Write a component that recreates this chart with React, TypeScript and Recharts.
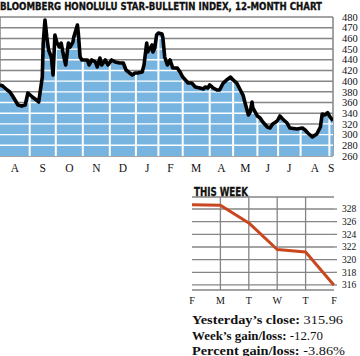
import {
  Area,
  CartesianGrid,
  ComposedChart,
  Line,
  ReferenceLine,
  XAxis,
  YAxis,
} from 'recharts';

// 12-month index, x = day since left edge of chart
const DAYS = [
  0, 3, 8, 11, 14, 18, 20, 24, 28, 31, 36, 39, 43, 47, 48, 50, 52, 54, 57, 59, 61, 63, 66, 68, 70,
  73, 76, 78, 81, 82, 86, 87, 89, 91, 97, 99, 102, 106, 108, 111, 113, 117, 120, 124, 128, 133, 137,
  140, 144, 147, 150, 153, 158, 160, 163, 164, 167, 169, 170, 172, 174, 176, 180, 181, 183, 186, 189,
  192, 197, 200, 203, 209, 213, 217, 222, 226, 228, 231, 233, 237, 241, 244, 248, 252, 256, 259, 263,
  267, 270, 272, 276, 278, 280, 281, 286, 289, 292, 297, 300, 303, 308, 311, 314, 319, 322, 330, 336,
  339, 342, 347, 352, 356, 358, 361, 364, 367, 370,
];
const CLOSE = [
  372.4, 370.8, 364.5, 361.3, 355.0, 345.5, 340.7, 339.1, 340.7, 359.7, 353.4, 350.2, 345.5, 385.0,
  438.8, 475.3, 448.3, 427.8, 416.7, 388.2, 451.5, 440.4, 432.5, 438.8, 423.0, 404.0, 438.8, 432.5,
  440.4, 448.3, 467.3, 454.7, 416.7, 412.0, 412.0, 404.0, 412.0, 408.8, 400.9, 415.1, 404.0, 412.0,
  404.0, 412.0, 408.8, 407.2, 407.2, 396.1, 391.4, 388.2, 391.4, 391.4, 393.0, 404.0, 438.8, 424.6,
  430.9, 435.7, 424.6, 430.9, 451.5, 454.7, 453.1, 446.8, 416.7, 404.0, 412.0, 399.3, 399.3, 393.0,
  385.0, 375.5, 375.5, 369.2, 367.6, 366.0, 369.2, 367.6, 372.4, 367.6, 364.5, 364.5, 375.5, 380.3,
  385.0, 380.3, 375.5, 364.5, 356.5, 345.5, 324.9, 329.6, 345.5, 336.0, 323.3, 320.1, 313.8, 305.9,
  304.3, 310.7, 315.4, 323.3, 318.6, 312.2, 304.3, 302.7, 304.3, 301.2, 296.4, 290.1, 294.8, 305.9,
  326.5, 324.9, 328.7, 321.2, 316.0,
];
const LAST_DAY = 370;
const MONTH_START_DAY = [33, 62, 92, 122, 151, 176, 203, 233, 259, 286, 309, 334, 366];
const MONTH_LABELS = ['A', 'S', 'O', 'N', 'D', 'J', 'F', 'M', 'A', 'M', 'J', 'J', 'A', 'S'];
const Y_MIN = 260;
const Y_MAX = 480;
const Y_LABELS = ['480', '470', '460', '450', '440', '420', '400', '380', '360', '340', '320', '300', '280', '260'];

// this week
const WEEK_DAYS = ['F', 'M', 'T', 'W', 'T', 'F'];
const WEEK_CLOSE = [328.66, 328.6, 325.8, 321.6, 321.2, 315.96];
const WEEK_TICKS = [316, 318, 320, 322, 324, 326, 328];

const BLUE = '#78b4e0';
const GRID = '#858585';
const SERIF = "'Liberation Serif', 'Times New Roman', serif";
const NARROW = "'Liberation Sans Narrow', 'DejaVu Sans Condensed', Arial, sans-serif";

const rows = DAYS.map((day, i) => ({ day, v: CLOSE[i] }));
const weekRows = WEEK_CLOSE.map((v, i) => ({ i, v }));

const yStep = (Y_MAX - Y_MIN) / (Y_LABELS.length - 1);
const yTicks = Y_LABELS.map((_, i) => Y_MAX - i * yStep);
const bounds = [0, ...MONTH_START_DAY, LAST_DAY];
const monthMid = MONTH_LABELS.map((_, i) => (bounds[i] + bounds[i + 1]) / 2);
const HALF = 1.1; // half thickness of the white lines inside the blue, in index units

function valueAt(day: number) {
  for (let i = 1; i < DAYS.length; i++) {
    if (DAYS[i] >= day) {
      const t = (day - DAYS[i - 1]) / (DAYS[i] - DAYS[i - 1]);
      return CLOSE[i - 1] + t * (CLOSE[i] - CLOSE[i - 1]);
    }
  }
  return CLOSE[CLOSE.length - 1];
}

function YearChart() {
  return (
    <ComposedChart width={360} height={180} data={rows} margin={{ top: 17, right: 0, left: 0, bottom: 4 }}>
      <CartesianGrid stroke={GRID} strokeWidth={1.5} />
      <XAxis
        type="number"
        dataKey="day"
        domain={[0, LAST_DAY]}
        allowDataOverflow
        ticks={MONTH_START_DAY}
        interval={0}
        tick={false}
        tickLine={false}
        axisLine={false}
        height={0}
      />
      <XAxis
        xAxisId="months"
        type="number"
        dataKey="day"
        domain={[0, LAST_DAY]}
        allowDataOverflow
        ticks={monthMid}
        interval={0}
        tickFormatter={(v) => MONTH_LABELS[monthMid.indexOf(v)]}
        tickLine={false}
        axisLine={false}
        tickSize={0}
        tickMargin={8}
        height={20}
        tick={{ fill: '#111', fontSize: 11.5, fontFamily: SERIF }}
      />
      <YAxis
        orientation="right"
        type="number"
        domain={[Y_MIN, Y_MAX]}
        allowDataOverflow
        ticks={yTicks}
        interval={0}
        width={27}
        tickLine={false}
        axisLine={false}
        tickSize={0}
        tickMargin={9}
        tickFormatter={(v) => Y_LABELS[Math.round((Y_MAX - v) / yStep)]}
        tick={{ fill: '#111', fontSize: 10.5, fontFamily: SERIF, textAnchor: 'start' }}
      />
      <Area
        type="linear"
        dataKey="v"
        baseValue={Y_MIN}
        fill={BLUE}
        fillOpacity={1}
        stroke="none"
        isAnimationActive={false}
      />
      {yTicks.slice(1, -1).map((level) => (
        <Area
          key={level}
          type="linear"
          dataKey={(r: { v: number }) => [level - HALF, Math.min(Math.max(r.v, level - HALF), level + HALF)]}
          fill="#fff"
          fillOpacity={1}
          stroke="none"
          isAnimationActive={false}
        />
      ))}
      {MONTH_START_DAY.map((d) => (
        <ReferenceLine
          key={d}
          ifOverflow="visible"
          segment={[
            { x: d, y: Y_MIN },
            { x: d, y: valueAt(d) - 1.5 },
          ]}
          stroke="#fff"
          strokeWidth={2}
        />
      ))}
      <Line
        type="linear"
        dataKey="v"
        stroke="#000"
        strokeWidth={3.6}
        strokeLinejoin="round"
        dot={false}
        activeDot={false}
        isAnimationActive={false}
      />
    </ComposedChart>
  );
}

function WeekChart() {
  return (
    <ComposedChart width={360} height={120} data={weekRows} margin={{ top: 7, right: 0, left: 192, bottom: 0 }}>
      <CartesianGrid vertical={false} stroke={GRID} strokeWidth={1.3} />
      <XAxis
        type="number"
        dataKey="i"
        domain={[0, WEEK_DAYS.length - 1]}
        ticks={WEEK_DAYS.map((_, i) => i)}
        interval={0}
        tickFormatter={(v) => WEEK_DAYS[v]}
        tickLine={false}
        axisLine={false}
        tickSize={0}
        tickMargin={7}
        height={20}
        tick={{ fill: '#111', fontSize: 10, fontFamily: SERIF }}
      />
      <YAxis
        orientation="right"
        type="number"
        domain={[315.2, 329.9]}
        allowDataOverflow
        ticks={WEEK_TICKS}
        interval={0}
        width={26}
        axisLine={false}
        tickLine={{ stroke: GRID, strokeWidth: 1.3 }}
        tickSize={3}
        tickMargin={5}
        tick={{ fill: '#111', fontSize: 9.5, fontFamily: SERIF, textAnchor: 'start' }}
      />
      {[1, 2, 3, 4].map((x) => (
        <ReferenceLine key={x} x={x} stroke={GRID} strokeWidth={1.3} />
      ))}
      <Line
        type="linear"
        dataKey="v"
        stroke="#c9461e"
        strokeWidth={3}
        strokeLinejoin="round"
        dot={false}
        activeDot={false}
        isAnimationActive={false}
      />
    </ComposedChart>
  );
}

export default function App() {
  return (
    <div style={{ position: 'absolute', left: 0, top: 0, width: 360, height: 356, background: '#fff', overflow: 'hidden' }}>
      <div style={{ position: 'absolute', left: 0, top: 0 }}>
        <YearChart />
      </div>
      <div style={{ position: 'absolute', left: 0, top: 190 }}>
        <WeekChart />
      </div>
      <svg width={360} height={356} style={{ position: 'absolute', left: 0, top: 0, pointerEvents: 'none' }}>
        <text x={0} y={9.5} fontFamily={NARROW} fontWeight="bold" fontSize={10.5} textLength={322} lengthAdjust="spacingAndGlyphs" fill="#111" stroke="#111" strokeWidth={0.3}>
          BLOOMBERG HONOLULU STAR-BULLETIN INDEX, 12-MONTH CHART
        </text>
        <text x={194} y={196} fontFamily={NARROW} fontWeight="bold" fontSize={11.5} textLength={54} lengthAdjust="spacingAndGlyphs" fill="#111" stroke="#111" strokeWidth={0.3}>
          THIS WEEK
        </text>
        <text x={192} y={324} fontFamily={SERIF} fontSize={13} textLength={151} lengthAdjust="spacingAndGlyphs" fill="#111">
          <tspan fontWeight="bold">Yesterday’s close:</tspan> 315.96
        </text>
        <text x={192} y={339.5} fontFamily={SERIF} fontSize={13} textLength={131} lengthAdjust="spacingAndGlyphs" fill="#111">
          <tspan fontWeight="bold">Week’s gain/loss:</tspan> -12.70
        </text>
        <text x={192} y={354.5} fontFamily={SERIF} fontSize={13} textLength={153} lengthAdjust="spacingAndGlyphs" fill="#111">
          <tspan fontWeight="bold">Percent gain/loss:</tspan> -3.86%
        </text>
      </svg>
    </div>
  );
}
